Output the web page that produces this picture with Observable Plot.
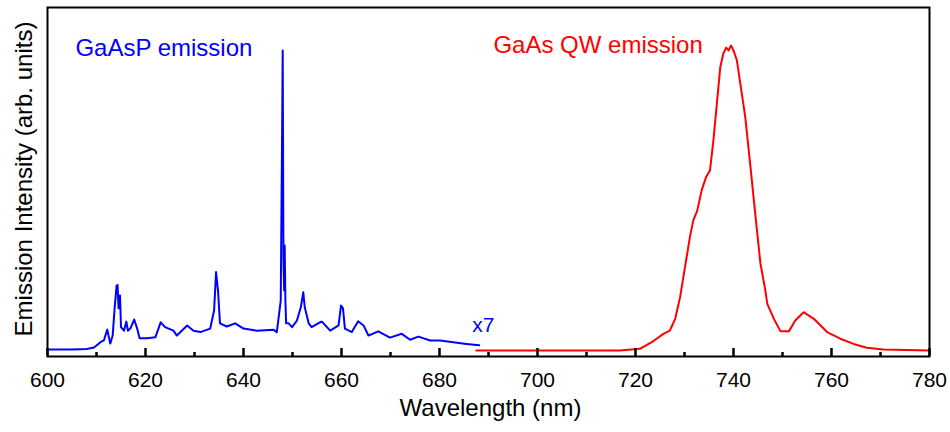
<!DOCTYPE html>
<html><head><meta charset="utf-8">
<script src="https://cdn.jsdelivr.net/npm/d3@7"></script>
<script src="https://cdn.jsdelivr.net/npm/@observablehq/plot@0.6"></script>
<style>body{margin:0;background:#fff;}</style>
</head><body><div id="chart"></div>
<script>
// GaAsP emission (x7), wavelength in nm and intensity in arb. units
const blueWl = [600,605,608,609.5,610.8,611.5,612.2,612.8,613.3,613.7,614.1,614.3,614.5,614.8,615.0,615.6,616.1,616.4,616.9,617.7,618.3,618.8,620.3,622,623.1,624,625.7,626.4,628.5,629.8,631.2,633.2,634.0,634.4,634.8,635.2,636.6,638.3,640,642.7,646.1,646.8,647.6,647.9,648.0,648.15,648.3,648.4,648.55,648.7,649.2,649.9,650.9,651.7,652.2,652.5,653.3,653.9,655.6,656.0,657.7,659.4,659.9,660.3,660.7,662.1,663.4,664.5,665.5,667.5,669.9,672.3,674,675.7,678.1,680.1,682.8,685.5,688.1];
const blueInt = [2.0,2.0,2.15,2.6,4.1,4.6,7.7,3.7,6.0,13.8,20.3,20.5,13.8,17.5,8.4,7.4,10.0,7.4,8.0,10.6,8.0,5.2,5.2,5.5,9.8,8.4,7.4,6.0,8.9,7.4,7.0,8.0,13.2,24.2,18.9,9.5,8.6,9.5,8.0,7.4,7.7,7.0,16.0,67.6,87.7,27.5,18.9,31.8,16.0,9.5,9.5,8.4,10.3,14.1,18.4,14.1,9.5,8.4,9.8,10.0,7.4,8.9,14.6,13.8,8.0,7.0,10.1,8.9,6.0,7.2,5.4,6.5,4.8,5.7,4.6,4.6,4.1,3.6,3.2];
// GaAs QW emission
const redWl = [687.5,700,716.8,720.9,723.3,725.7,727,728.1,729.1,730.1,731.1,731.8,732.6,733.5,734.4,735.2,735.9,736.6,737.3,737.9,738.5,739.0,739.5,740,740.7,741.4,742.4,743.4,744.5,745.5,746.5,746.9,748.2,749.6,751.3,752.6,754.3,756.4,759.1,761.8,764.5,767.2,770.6,780];
const redInt = [1.7,1.7,1.7,2.2,4.1,6.5,7.4,10.8,17.0,25.6,34.2,39.0,41.8,47.6,51.4,53.3,61.9,72.4,82.9,86.7,88.5,87.7,89.1,87.7,84.8,78.1,68.6,55.2,40.0,26.6,18.9,15.1,10.9,7.2,7.2,10.3,12.7,10.8,7.0,5.1,3.6,2.5,2.0,1.7];
const majorTicks = [600,620,640,660,680,700,720,740,760,780];
const minorTicks = [610,630,650,670,690,710,730,750,770];

const blue = blueWl.map((w,i) => ({wl: w, v: blueInt[i]}));
const red = redWl.map((w,i) => ({wl: w, v: redInt[i]}));

// inward tick lengths expressed in y units (frame is 349 px tall for 100 units)
const pxPerUnit = 349 / 100;
const majorLen = 8 / pxPerUnit, minorLen = 4 / pxPerUnit;

const chart = Plot.plot({
  width: 950, height: 432,
  marginLeft: 47, marginRight: 21, marginTop: 7, marginBottom: 76,
  style: {fontFamily: "'Liberation Sans', Arial, sans-serif", background: "white", color: "black"},
  x: {domain: [600, 780]},
  y: {domain: [0, 100], axis: null},
  marks: [
    Plot.line(blue, {x: "wl", y: "v", stroke: "#0000ff", strokeWidth: 2}),
    Plot.line(red, {x: "wl", y: "v", stroke: "#ff0000", strokeWidth: 2}),
    Plot.ruleX(majorTicks, {x: d => d, y1: 0, y2: majorLen, stroke: "black", strokeWidth: 2}),
    Plot.ruleX(minorTicks, {x: d => d, y1: 0, y2: minorLen, stroke: "black", strokeWidth: 2}),
    Plot.axisX(majorTicks, {tickSize: 8, dy: -8, tickFormat: () => "", label: null, strokeWidth: 2}),
    Plot.axisX(minorTicks, {tickSize: 4, dy: -4, tickFormat: () => "", label: null, strokeWidth: 2}),
    Plot.axisX(majorTicks, {tickSize: 0, tickPadding: 16, fontSize: 21, label: null}),
    Plot.frame({strokeWidth: 2}),
    Plot.text(["Emission Intensity (arb. units)"], {frameAnchor: "left", textAnchor: "middle", rotate: -90, dx: -23, dy: -3, fontSize: 24}),
    Plot.text(["Wavelength (nm)"], {frameAnchor: "bottom", dy: 59, dx: 2, fontSize: 24}),
    Plot.text(["GaAsP emission"], {x: 605.7, y: 88.2, textAnchor: "start", fill: "#0000ff", fontSize: 24}),
    Plot.text(["GaAs QW emission"], {x: 691.0, y: 89.3, textAnchor: "start", fill: "#ff0000", fontSize: 24}),
    Plot.text(["x7"], {x: 686.7, y: 8.9, textAnchor: "start", fill: "#0000ff", fontSize: 21})
  ]
});
document.getElementById("chart").appendChild(chart);
</script>
</body></html>
